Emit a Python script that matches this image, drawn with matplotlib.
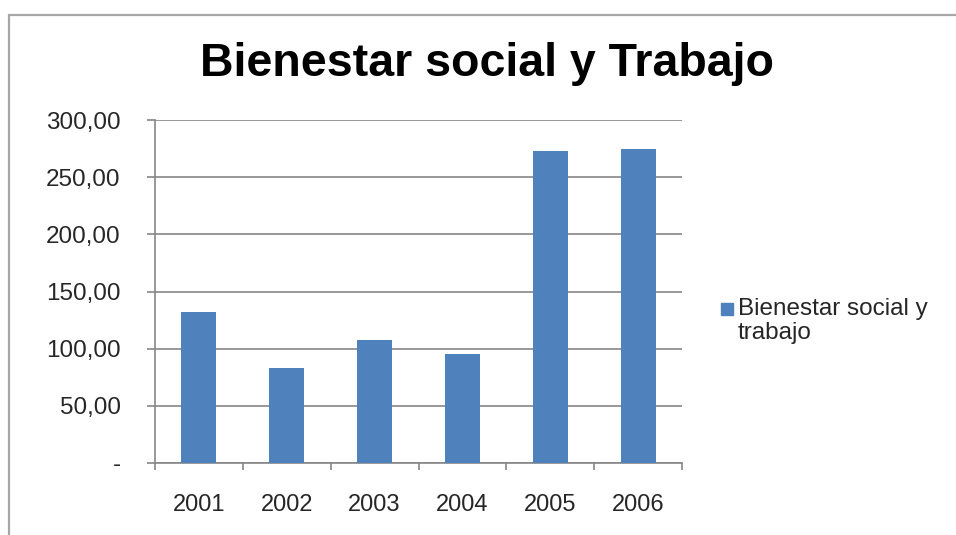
import matplotlib.pyplot as plt
from matplotlib.patches import Rectangle

plt.rcParams['font.family'] = ['Liberation Sans', 'DejaVu Sans']

# data
years = ['2001', '2002', '2003', '2004', '2005', '2006']
values = [132.5, 83.5, 108.0, 95.7, 273.2, 274.6]
yticks = [0, 50, 100, 150, 200, 250, 300]
ytick_labels = ['-', '50,00', '100,00', '150,00', '200,00', '250,00', '300,00']
series_name = 'Bienestar social y\ntrabajo'
bar_color = '#4F81BD'

W, H = 956, 535
fig = plt.figure(figsize=(W / 100, H / 100), dpi=100)

# outer chart frame
fig.patches.append(Rectangle((9 / W, -0.01), 1.0, 1 - 15 / H + 0.01,
                             transform=fig.transFigure, fill=False,
                             edgecolor='#a6a6a6', linewidth=1.6))

ax = fig.add_axes([155 / W, 1 - 463 / H, (682 - 155) / W, (463 - 120) / H])

x = range(len(years))
ax.bar(x, values, width=0.4, color=bar_color, zorder=3)

ax.set_xlim(-0.5, len(years) - 0.5)
ax.set_ylim(0, 300)
ax.set_yticks(yticks)
ax.set_yticklabels(ytick_labels)
ax.set_xticks(x)
ax.set_xticklabels(years)
ax.set_xticks([i - 0.5 for i in range(len(years) + 1)], minor=True)

ax.grid(axis='y', color='#868686', linewidth=1.2, zorder=0)
for s in ['top', 'right']:
    ax.spines[s].set_visible(False)
for s in ['left', 'bottom']:
    ax.spines[s].set_color('#868686')
    ax.spines[s].set_linewidth(1.2)

ax.tick_params(axis='x', which='major', length=0, pad=22, labelsize=17, labelcolor='#262626')
ax.tick_params(axis='x', which='minor', length=5, color='#868686', width=1.2)
ax.tick_params(axis='y', length=5.8, color='#868686', width=1.2, pad=19,
               labelsize=17.5, labelcolor='#262626')

fig.text(487 / W, 1 - 64 / H, 'Bienestar social y Trabajo',
         ha='center', va='center', fontsize=33.5, fontweight='bold')

# legend
fig.patches.append(Rectangle((721 / W, 1 - 315 / H), 12 / W, 12 / H,
                             transform=fig.transFigure, color=bar_color))
fig.text(738 / W, 1 - 298 / H, series_name, ha='left', va='top',
         fontsize=17.5, color='#262626', linespacing=1.1)

fig.savefig('out.png', dpi=100)
